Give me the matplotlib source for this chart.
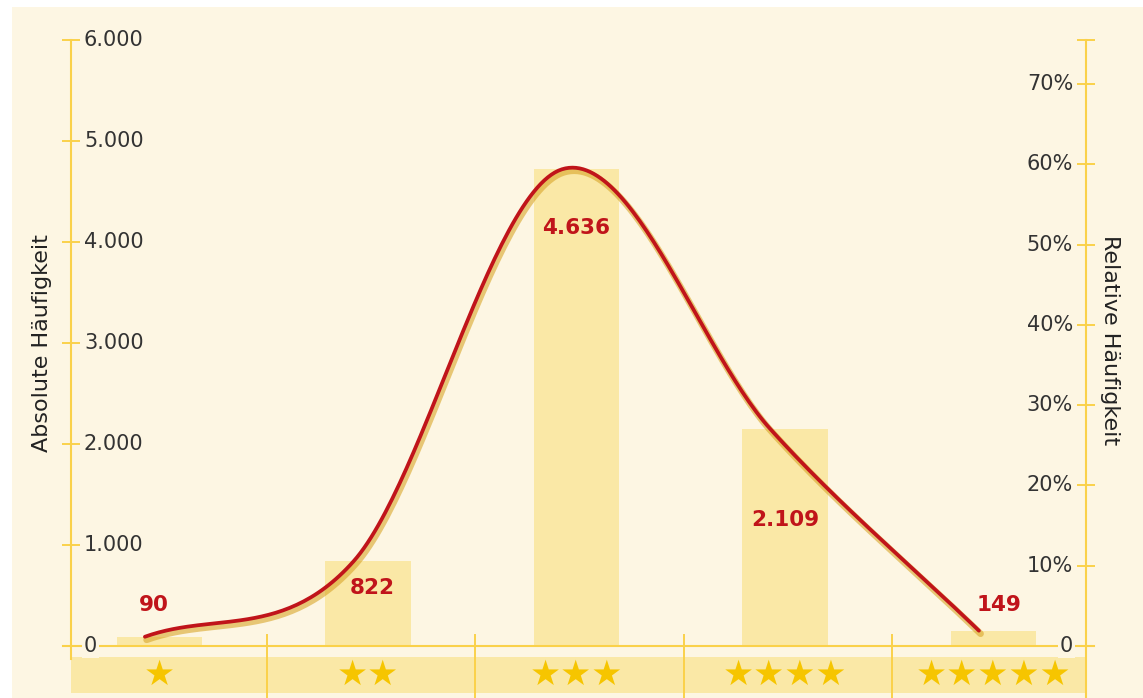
import numpy as np
import matplotlib
matplotlib.use("Agg")
import matplotlib.pyplot as plt
import matplotlib.patheffects as pe
from matplotlib.patches import Rectangle
from matplotlib.transforms import blended_transform_factory

# Rating distribution
categories = ["★", "★★", "★★★", "★★★★", "★★★★★"]
counts = [90, 822, 4636, 2109, 149]
count_labels = ["90", "822", "4.636", "2.109", "149"]
left_ticks = [0, 1000, 2000, 3000, 4000, 5000, 6000]
left_tick_labels = ["0", "1.000", "2.000", "3.000", "4.000", "5.000", "6.000"]
right_ticks = [0, 10, 20, 30, 40, 50, 60, 70]
right_tick_labels = ["0", "10%", "20%", "30%", "40%", "50%", "60%", "70%"]

CREAM = "#fdf6e3"
BAR = "#fae8a6"
GOLD = "#fad14a"
STAR = "#f6c500"
RED = "#c0141a"
TEXT = "#333333"


def catmull_rom(x, y, n=60):
    # piecewise cubic Hermite with Catmull-Rom tangents, one-sided at the ends
    x = np.asarray(x, float)
    y = np.asarray(y, float)
    m = np.empty_like(y)
    m[1:-1] = (y[2:] - y[:-2]) / (x[2:] - x[:-2])
    m[0] = (y[1] - y[0]) / (x[1] - x[0])
    m[-1] = (y[-1] - y[-2]) / (x[-1] - x[-2])
    xs, ys = [], []
    t = np.linspace(0, 1, n)
    h00 = 2 * t**3 - 3 * t**2 + 1
    h10 = t**3 - 2 * t**2 + t
    h01 = -2 * t**3 + 3 * t**2
    h11 = t**3 - t**2
    for i in range(len(x) - 1):
        h = x[i + 1] - x[i]
        xs.append(x[i] + t * h)
        ys.append(h00 * y[i] + h10 * h * m[i] + h01 * y[i + 1] + h11 * h * m[i + 1])
    return np.concatenate(xs), np.concatenate(ys)


total = sum(counts)
shares = [c / total * 100 for c in counts]
xpos = np.arange(len(categories))

fig = plt.figure(figsize=(11.43, 6.98), dpi=100, facecolor="white")
fig.patches.append(Rectangle((12 / 1143, 0), 1, 691 / 698, transform=fig.transFigure,
                             facecolor=CREAM, edgecolor="none", zorder=-10))

ax = fig.add_axes([71 / 1143, 52 / 698, 1015 / 1143, 606 / 698])
ax.patch.set_visible(False)
ax.set_xlim(-0.4245, 4.4436)
ax.set_ylim(0, 6000)
ax2 = ax.twinx()
ax2.set_ylim(0, 75.5)
ax2.patch.set_visible(False)

for a in (ax, ax2):
    for s in a.spines.values():
        s.set_visible(False)
    a.set_xticks([])

ax.set_yticks(left_ticks)
ax.tick_params(axis="y", direction="inout", length=12.5, width=1.4, color=GOLD, labelleft=False)
ax2.set_yticks(right_ticks + [75.5])
ax2.tick_params(axis="y", direction="inout", length=12.5, width=1.4, color=GOLD, labelright=False)

# axis lines
ax2.plot([0, 0], [-0.021, 1], transform=ax2.transAxes, color=GOLD, lw=1.5, clip_on=False, zorder=1)
ax2.plot([1, 1], [-0.086, 1], transform=ax2.transAxes, color=GOLD, lw=1.5, clip_on=False, zorder=1)
ax2.plot([-0.008, 1.008], [0, 0], transform=ax2.transAxes, color=GOLD, lw=1.5, clip_on=False, zorder=3)

# category band with stars
ax2.add_patch(Rectangle((0, -0.0776), 1, 0.0594, transform=ax2.transAxes,
                        facecolor=BAR, edgecolor="none", clip_on=False, zorder=0))
bt = blended_transform_factory(ax2.transData, ax2.transAxes)
for i in range(len(categories) - 1):
    ax2.plot([i + 0.515, i + 0.515], [0.018, -0.086], transform=bt, color=GOLD,
             lw=1.4, clip_on=False, zorder=1)
for x, cat in zip(xpos, categories):
    ax2.text(x, -0.047, cat, transform=bt, ha="center", va="center", fontsize=25,
             color=STAR, family="DejaVu Sans", clip_on=False)

# bars
ax2.bar(xpos, shares, width=0.408, color=BAR, zorder=2)

# smooth trend line with soft shadow
xs, ys = catmull_rom(xpos - 0.07, shares)
ax2.plot(xs, ys, color=RED, lw=2.7, solid_capstyle="round", zorder=5,
         path_effects=[pe.SimpleLineShadow(offset=(1.2, -2.2), shadow_color="#d9a62a",
                                           alpha=0.6, linewidth=4.8),
                       pe.Normal()])

# value labels
label_y = [406, 574, 4139, 1248, 406]
label_dx = [-0.025, 0.02, 0.0, 0.0, 0.025]
lbt = blended_transform_factory(ax2.transData, ax.transData)
for x, dx, y, lab in zip(xpos, label_dx, label_y, count_labels):
    ax2.text(x + dx, y, lab, transform=lbt, ha="center", va="center", fontsize=15.5,
             fontweight="bold", color=RED, zorder=6)

# tick labels inside the frame
lt = blended_transform_factory(ax.transAxes, ax.transData)
for v, lab in zip(left_ticks, left_tick_labels):
    ax2.text(0.0128, v, lab, transform=lt, ha="left", va="center", fontsize=15, color=TEXT,
             zorder=4, bbox=dict(boxstyle="square,pad=0.1", fc=CREAM, ec="none"))
rt = blended_transform_factory(ax2.transAxes, ax2.transData)
for v, lab in zip(right_ticks, right_tick_labels):
    ax2.text(0.9872, v, lab, transform=rt, ha="right", va="center", fontsize=15, color=TEXT,
             zorder=4, bbox=dict(boxstyle="square,pad=0.1", fc=CREAM, ec="none"))

fig.text(42 / 1143, 1 - 343 / 698, "Absolute Häufigkeit", rotation=90, ha="center",
         va="center", fontsize=16, color="#222222")
fig.text(1110 / 1143, 1 - 340 / 698, "Relative Häufigkeit", rotation=270, ha="center",
         va="center", fontsize=16, color="#222222")

fig.savefig("out.png", dpi=100, facecolor=fig.get_facecolor())
